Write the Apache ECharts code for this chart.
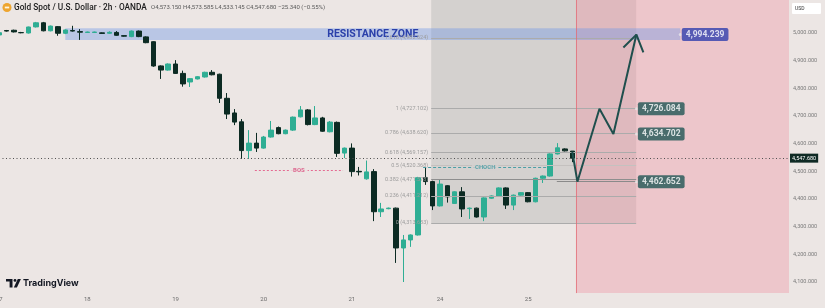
<!DOCTYPE html>
<html><head><meta charset="utf-8">
<script src="https://cdn.jsdelivr.net/npm/echarts@6/dist/echarts.min.js"></script>
<style>html,body{margin:0;padding:0;background:#ece6e4}#c{width:825px;height:308px}</style>
</head><body><div id="c"></div>
<script>
// ---- data ----
const dayIndex = [0, 12, 24, 36, 48, 60, 72];
const dayText  = ['17', '18', '19', '20', '21', '24', '25'];
const slots = Array.from({length: 108}, (_, i) => 'b' + i); // 2h bar slots incl. future space

const opens  = [4993,5009,5010,5001.5,5000,5022,5037,5008,5023,4999,5009,5005,5002,5002,5000.5,4999,5002,4990.5,4987,5007,
  4986,4968.6,4881,4866,4888,4854,4823,4834,4841,4858,4851,4764,4711,4679,4575,4602,4584,4624,4658,4636,
  4649,4697,4722,4669,4693,4643,4677,4566,4584,4500,4473,4499,4354,4365,4367,4223,4252,4270,4477,4463,
  4375,4448,4384,4426,4365,4367,4335,4403,4411,4440,4378,4414,4423,4390,4475,4483,4563,4581,4573.15];
const closes = [5001,5007,5004,5001,5021.7,5037,5008,5025,4999,5011,5007,5003,5003.5,5003.5,4998.5,5002.5,4991.7,4988.5,5007,4987,
  4965,4880.7,4866,4888,4854,4816,4835,4842,4858,4849,4764,4707,4678,4575,4602,4584,4624,4649,4636,4649,
  4696,4722,4669,4693,4645,4678,4565,4584,4499,4498,4498,4354,4364,4367,4223,4252,4270,4477,4463,4375,
  4454,4408,4426,4364,4367,4335,4404,4411,4440,4378,4414,4423,4390,4475,4483,4563,4585,4574,4547.68];
const lows   = [4990,5005,5002,4999,4998,5020,5006,5006,4990,4996,5005,4975,5000,5000,4997,4997,4990,4987,4985,4985,
  4963,4878,4834,4864,4852,4806,4805,4832,4839,4847,4747,4689,4667,4545,4545,4570,4582,4622,4634,4634,
  4646,4695,4666,4667,4643,4641,4552,4548,4481,4485,4470,4320,4335,4363,4169,4100,4227,4268,4451,4360,
  4373,4387,4382,4335,4328,4333,4320,4401,4409,4364,4360,4412,4388,4388,4458,4481,4561,4572,4533.145];
const highs  = [5003,5011,5012,5004,5023,5040,5040,5027,5025,5013,5026,5014,5005,5005,5002,5006,5007,4991,5009,5009,
  4988,4970,4883,4890,4902,4864,4837,4844,4860,4866,4853,4783,4725,4689,4649,4639,4628,4682,4662,4651,
  4698,4736,4725,4736,4697,4682,4680,4586,4601,4516,4539,4508,4386,4369,4369,4270,4272,4480,4512,4466,
  4469,4450,4428,4443,4369,4369,4406,4413,4442,4442,4416,4425,4425,4477,4485,4565,4602,4583,4573.585];

const currentPrice = 4547.68;
const fibRatios = ['1.618', '1', '0.786', '0.618', '0.5', '0.382', '0.236', '0'];
const fibPrices = [4982.624, 4727.102, 4638.620, 4569.157, 4520.368, 4471.578, 4411.212, 4313.633];
const fibSpan = [58.8, 86.7];            // bar slots covered by the fib box
const resistancePrices = [4975, 5017];
const resistanceSpan = [9, 92.7];
const forecastStart = 78.5;              // shaded forecast region starts after last bar
const forecastFloor = 4060;
const projSlots  = [78.0, 78.7, 81.7, 83.6, 86.73];
const projPrices = [4571, 4462.652, 4726.084, 4634.702, 4994.239];
const arrowSlots  = [84.96, 86.73, 87.68];
const arrowPrices = [4947.6, 4994.239, 4929.9];
const targetPrices = [4994.239, 4726.084, 4634.702, 4462.652];
const targetSlots  = [92.7, 86.73, 86.73, 86.73];
const targetShortLine = [75.9, 86.7];
const bosPrice = 4502.3, bosSpan = [34.8, 46.8];
const chochPrice = 4513.1, chochSpan = [57.7, 74.6];

// ---- chart ----
const fmt = v => v.toLocaleString('en-US', {minimumFractionDigits: 3, maximumFractionDigits: 3});
const UP = '#2fae94', DOWN = '#0c2b23', BG = '#ece6e4';
const FONT = 'Roboto, "Open Sans", sans-serif';

const chart = echarts.init(document.getElementById('c'), null, {renderer: 'canvas'});

const candleRows = opens.map((o, i) => [o, closes[i], lows[i], highs[i]]);

const fibLines = fibPrices.map((p, k) => {
  const col = k === 5 ? '#8e8e8e' : (k === 4 ? '#c4c1bf' : '#ababab');
  const style = {color: col, width: 1, type: 'solid'};
  const lab = {show: true, position: 'start', distance: 3, formatter: fibRatios[k] + ' (' + fmt(p) + ')',
               color: '#9c9c9c', fontSize: 5.5, fontFamily: FONT};
  return [{coord: [fibSpan[0], p], lineStyle: style, label: lab}, {coord: [fibSpan[1], p], lineStyle: style, label: lab}];
});

const option = {
  backgroundColor: BG,
  animation: false,
  grid: {left: -4.5, right: 36, top: -22.33, bottom: -1.67, containLabel: false, outerBoundsMode: 'none'},
  xAxis: [
    {type: 'category', data: slots, boundaryGap: true, offset: -16.67,
     axisLine: {show: false}, axisTick: {show: false}, splitLine: {show: false},
     axisLabel: {interval: 0, margin: 3.5, color: '#6b6b6b', fontSize: 6, fontFamily: FONT,
       formatter: (v, idx) => { const k = dayIndex.indexOf(idx); return k >= 0 ? dayText[k] : ''; }}},
    {type: 'value', min: -0.5, max: slots.length - 0.5, show: false}
  ],
  yAxis: [{type: 'value', position: 'right', min: 4000, max: 5200, interval: 100, scale: true,
    axisLine: {show: false}, axisTick: {show: false}, splitLine: {show: false},
    axisLabel: {margin: 4, color: '#7a7a7a', fontSize: 5.5, fontFamily: FONT,
      formatter: v => (v >= 4100 && v <= 5000) ? fmt(v) : ''}}],
  series: [
    {type: 'candlestick', xAxisIndex: 0, yAxisIndex: 0, data: candleRows, barWidth: '68%', z: 3,
     itemStyle: {color: UP, color0: DOWN, borderColor: UP, borderColor0: DOWN, borderColorDoji: DOWN, borderWidth: 1}},
    {type: 'line', name: 'projection', xAxisIndex: 1, yAxisIndex: 0, z: 6, symbol: 'none',
     data: projSlots.map((s, i) => [s, projPrices[i]]),
     lineStyle: {color: '#1f4f4d', width: 2},
     markArea: {silent: true, data: [
       [{xAxis: fibSpan[0], yAxis: 5200, itemStyle: {color: '#d4d1cf'}}, {xAxis: fibSpan[1], yAxis: fibPrices[7]}],
       [{xAxis: forecastStart, yAxis: 5200, itemStyle: {color: 'rgba(240,150,165,0.4)'}}, {xAxis: slots.length - 0.5, yAxis: forecastFloor}],
       [{xAxis: resistanceSpan[0], yAxis: resistancePrices[1], itemStyle: {color: 'rgba(110,150,230,0.4)'},
         label: {show: true, position: 'inside', formatter: 'RESISTANCE ZONE', color: '#2a40aa', fontSize: 10.5,
                 fontWeight: 'bold', fontFamily: FONT}},
        {xAxis: resistanceSpan[1], yAxis: resistancePrices[0]}]
     ]},
     markLine: {silent: true, symbol: ['none', 'none'], label: {show: false}, data: [
       ...fibLines,
       [{coord: [forecastStart, forecastFloor], lineStyle: {color: 'rgba(226,105,115,0.75)', width: 1, type: 'solid'}},
        {coord: [forecastStart, 5200]}],
       [{coord: [targetShortLine[0], targetPrices[3]], lineStyle: {color: '#8a8a8a', width: 1, type: 'solid'}},
        {coord: [targetShortLine[1], targetPrices[3]]}],
       [{coord: [bosSpan[0], bosPrice], lineStyle: {color: '#e46a92', width: 1, type: [2, 2]}},
        {coord: [bosSpan[1], bosPrice]}],
       [{coord: [chochSpan[0], chochPrice], lineStyle: {color: '#4b9ea5', width: 1, type: [3, 2]}},
        {coord: [chochSpan[1], chochPrice]}],
       {yAxis: currentPrice, lineStyle: {color: '#505050', width: 1, type: [1, 2.5]},
        label: {show: true, position: 'end', distance: 1, formatter: fmt(currentPrice), color: '#ffffff',
                backgroundColor: '#0f2a24', padding: [1.5, 2], fontSize: 5.5, fontFamily: FONT}}
     ]}
    },
    {type: 'line', name: 'arrow', xAxisIndex: 1, yAxisIndex: 0, z: 6, symbol: 'none',
     data: arrowSlots.map((s, i) => [s, arrowPrices[i]]), lineStyle: {color: '#1f4f4d', width: 2}},
    {type: 'scatter', name: 'targets', xAxisIndex: 1, yAxisIndex: 0, z: 7, symbol: 'circle', symbolSize: 3,
     data: targetPrices.map((p, i) => ({value: [targetSlots[i], p],
        itemStyle: {color: 'rgba(235,235,235,0.9)'},
        label: {backgroundColor: i === 0 ? '#2f3fae' : '#1f5554'}})),
     label: {show: true, position: 'right', distance: 0, formatter: p => fmt(p.value[1]), color: '#ffffff',
             fontSize: 8.5, fontWeight: 'bold', fontFamily: FONT, padding: [2, 4], borderRadius: 2}},
    {type: 'scatter', name: 'tags', xAxisIndex: 1, yAxisIndex: 0, z: 7, symbolSize: 0,
     data: [
       {value: [(bosSpan[0] + bosSpan[1]) / 2, bosPrice], label: {formatter: 'BOS', color: '#d94a7c', backgroundColor: BG}},
       {value: [(chochSpan[0] + chochSpan[1]) / 2, chochPrice], label: {formatter: 'CHOCH', color: '#3f98a0', backgroundColor: '#d4d1cf'}}
     ],
     label: {show: true, position: 'inside', fontSize: 6, fontWeight: 'bold', fontFamily: FONT, padding: [0, 3]}}
  ],
  graphic: [
    {type: 'circle', shape: {cx: 7, cy: 7.5, r: 4.5}, style: {fill: '#eea52f'}},
    {type: 'rect', shape: {x: 4.8, y: 6.6, width: 4.4, height: 1.8}, style: {fill: '#fff6e0'}},
    {type: 'text', x: 14, y: 7.5, style: {text: 'Gold Spot / U.S. Dollar · 2h · OANDA', fill: '#1b1b1b',
      font: '500 8.3px Roboto, sans-serif', verticalAlign: 'middle'}},
    {type: 'text', x: 151, y: 7.8, style: {text: 'O4,573.150 H4,573.585 L4,533.145 C4,547.680 −25.340 (−0.55%)',
      fill: '#5a5a5a', font: '6px Roboto, sans-serif', verticalAlign: 'middle'}},
    {type: 'rect', shape: {x: 792, y: 3, width: 29, height: 11, r: 1}, style: {fill: '#ffffff'}},
    {type: 'text', x: 795, y: 8.7, style: {text: 'USD', fill: '#333', font: '5px Roboto, sans-serif', verticalAlign: 'middle'}},
    {type: 'polygon', shape: {points: [[6, 279], [12.5, 279], [12.5, 287.5], [9.6, 287.5], [9.6, 281.6], [6, 281.6]]},
      style: {fill: '#131722'}},
    {type: 'circle', shape: {cx: 15, cy: 280.4, r: 1.4}, style: {fill: '#131722'}},
    {type: 'polygon', shape: {points: [[17.8, 279], [20.9, 279], [16.9, 287.5], [13.8, 287.5]]}, style: {fill: '#131722'}},
    {type: 'text', x: 23, y: 283.3, style: {text: 'TradingView', fill: '#131722',
      font: 'bold 9px Inter, Roboto, sans-serif', verticalAlign: 'middle'}}
  ]
};
chart.setOption(option);
</script></body></html>
